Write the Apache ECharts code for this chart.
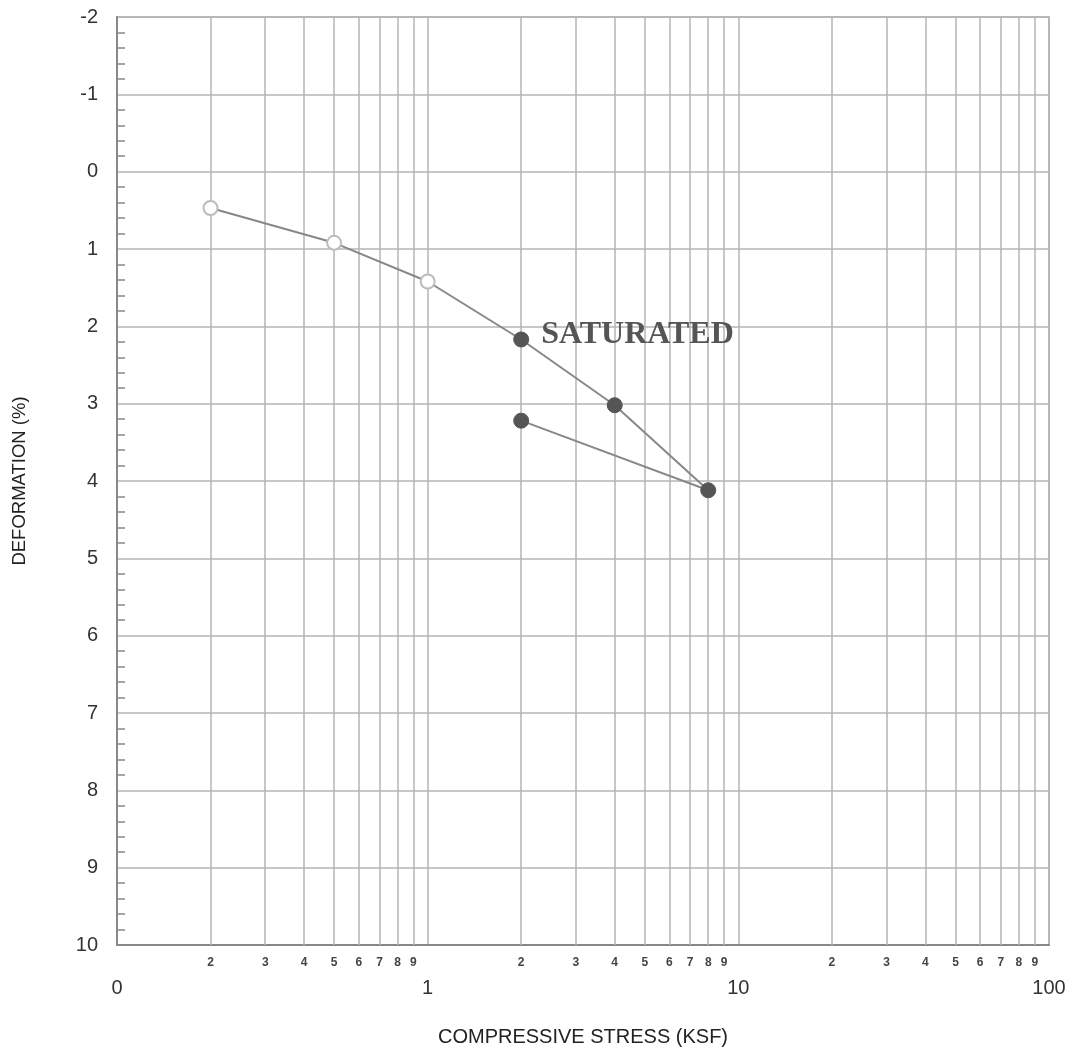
<!DOCTYPE html>
<html>
<head>
<meta charset="utf-8">
<script src="https://cdn.jsdelivr.net/npm/echarts@6/dist/echarts.min.js"></script>
<style>html,body{margin:0;padding:0;background:#fff;}#c{width:1076px;height:1053px;}</style>
</head>
<body>
<div id="c"></div>
<script>
// ---- data ----
var stress = [0.2, 0.5, 1, 2, 4, 8, 2];
var deformation = [0.47, 0.92, 1.42, 2.17, 3.02, 4.12, 3.22];
var saturated = [false, false, false, true, true, true, true];
var decadeTicks = [0.1, 1, 10, 100];
var decadeLabels = ['0', '1', '10', '100'];
var minorDigits = [2, 3, 4, 5, 6, 7, 8, 9];
var decadeStarts = [0.1, 1, 10];

var chart = echarts.init(document.getElementById('c'));

var pts = stress.map(function (s, i) {
  var sat = saturated[i];
  var p = {
    value: [s, deformation[i]],
    symbolSize: sat ? 15 : 14,
    itemStyle: sat ? { color: '#555', borderColor: '#555', borderWidth: 1 }
                   : { color: '#fff', borderColor: '#bcbcbc', borderWidth: 2 }
  };
  if (i === 3) {
    p.label = {
      show: true, position: 'right', distance: 12, offset: [0, -5],
      formatter: 'SATURATED',
      fontFamily: 'Liberation Serif', fontWeight: 'bold', fontSize: 32, color: '#555'
    };
  }
  return p;
});

var minorLines = [];
decadeStarts.forEach(function (d) {
  minorDigits.forEach(function (m) {
    minorLines.push({ xAxis: d * m, label: { formatter: String(m) } });
  });
});

chart.setOption({
  animation: false,
  backgroundColor: '#fff',
  grid: { left: 117, top: 17, right: 27, bottom: 108, show: true, borderColor: '#aaa', borderWidth: 1.5 },
  xAxis: {
    type: 'log', min: 0.1, max: 100, logBase: 10,
    name: 'COMPRESSIVE STRESS (KSF)', nameLocation: 'middle', nameGap: 82,
    nameTextStyle: { fontFamily: 'Liberation Sans', fontSize: 20, color: '#222' },
    axisLine: { show: true, onZero: false, lineStyle: { color: '#888', width: 2 } },
    axisTick: { show: false },
    axisLabel: {
      margin: 33, fontFamily: 'Liberation Sans', fontSize: 20, color: '#333',
      formatter: function (v) {
        for (var i = 0; i < decadeTicks.length; i++) {
          if (Math.abs(Math.log10(v) - Math.log10(decadeTicks[i])) < 1e-6) return decadeLabels[i];
        }
        return '';
      }
    },
    splitLine: { show: true, lineStyle: { color: '#b5b5b5', width: 1.5 } }
  },
  yAxis: {
    type: 'value', inverse: true, min: -2, max: 10, interval: 1,
    name: 'DEFORMATION (%)', nameLocation: 'middle', nameGap: 88,
    nameTextStyle: { fontFamily: 'Liberation Sans', fontSize: 18.5, color: '#222' },
    axisLine: { show: true, onZero: false, lineStyle: { color: '#888', width: 2 } },
    axisTick: { show: false, inside: true },
    minorTick: { show: true, splitNumber: 5, length: 8, lineStyle: { color: '#888', width: 1.5 } },
    axisLabel: { margin: 19, fontFamily: 'Liberation Sans', fontSize: 20, color: '#333' },
    splitLine: { show: true, lineStyle: { color: '#b5b5b5', width: 1.5 } }
  },
  series: [{
    type: 'line',
    data: pts,
    symbol: 'circle',
    lineStyle: { color: '#888', width: 2 },
    z: 5,
    markLine: {
      silent: true,
      symbol: ['none', 'none'],
      lineStyle: { color: '#b5b5b5', width: 1.5, type: 'solid' },
      label: {
        show: true, position: 'end', distance: 12,
        fontFamily: 'Liberation Sans', fontSize: 12, fontWeight: 'bold', color: '#444'
      },
      emphasis: { disabled: true },
      data: minorLines
    }
  }]
});
</script>
</body>
</html>
